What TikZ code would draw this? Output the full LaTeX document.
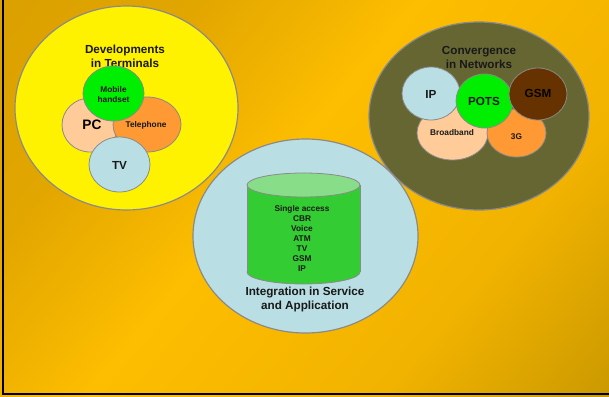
\documentclass[tikz,border=0pt]{standalone}
\usepackage{fontspec}
\setmainfont{Liberation Sans}
\usetikzlibrary{shapes.geometric}
\definecolor{bordergray}{HTML}{8A8A8A}
\definecolor{peach}{HTML}{FFCC99}
\definecolor{orng}{HTML}{FF9933}
\definecolor{brightgreen}{HTML}{00EE00}
\definecolor{lightblue}{HTML}{B9DFE4}
\definecolor{olive}{HTML}{666633}
\definecolor{brown}{HTML}{663300}
\definecolor{cylbody}{HTML}{33CC33}
\definecolor{cyltop}{HTML}{88DD88}
\definecolor{gA}{HTML}{D39B00}
\definecolor{gB}{HTML}{E2A600}
\definecolor{gC}{HTML}{FDBD00}
\definecolor{gD}{HTML}{F2B300}
\definecolor{gE}{HTML}{C99800}
\pgfdeclarehorizontalshading{bgshade}{100bp}{color(0bp)=(gA); color(30bp)=(gB); color(46bp)=(gC); color(68bp)=(gD); color(86bp)=(gE); color(100bp)=(gE)}
\begin{document}
\begin{tikzpicture}[x=1pt,y=-1pt,
  bigdisc/.style={ellipse, draw=bordergray, line width=1.2pt, inner sep=0pt},
  blob/.style={ellipse, draw=bordergray, line width=0.8pt, inner sep=0pt},
  bigtxt/.style={font=\fontsize{11.7}{14}\selectfont\bfseries, align=center, inner sep=0pt, text=black!90},
  smalltxt/.style={font=\fontsize{8.3}{9.7}\selectfont\bfseries, align=center, inner sep=0pt, text=black!90},
  cyltxt/.style={font=\fontsize{8.3}{10.1}\selectfont\bfseries, align=center, inner sep=0pt, text=black!90}]
\useasboundingbox (0,0) rectangle (609,396);
\fill[shading=bgshade, shading angle=-40] (0,0) rectangle (609,396);
\draw[line width=2pt, black] (3,0) -- (3,394) -- (609,394);

% Developments in Terminals
\node[bigdisc, fill=yellow, minimum width=223pt, minimum height=204pt] (term) at (126.5,108) {};
\node[bigtxt] (termlbl) at (125,56) {Developments\\in Terminals};
\node[blob, fill=peach, minimum width=56pt, minimum height=54pt] (pc) at (90,125) {};
\node[blob, fill=orng, minimum width=68pt, minimum height=55pt] (tel) at (147,124.5) {};
\node[blob, fill=brightgreen, minimum width=61pt, minimum height=55pt] (mob) at (113.5,93.5) {};
\node[blob, fill=lightblue, minimum width=61pt, minimum height=55pt] (tv) at (119.5,164.5) {};
\node[font=\fontsize{13.7}{16}\selectfont\bfseries, inner sep=0pt] (pclbl) at (92,125) {PC};
\node[smalltxt] (tellbl) at (146,125.5) {Telephone};
\node[smalltxt] (moblbl) at (113.5,94.5) {Mobile\\handset};
\node[bigtxt] (tvlbl) at (119.5,165) {TV};

% Convergence in Networks
\node[bigdisc, fill=olive, minimum width=220pt, minimum height=188pt] (net) at (479,116) {};
\node[bigtxt] (netlbl) at (479,57) {Convergence\\in Networks};
\node[blob, fill=peach, minimum width=71pt, minimum height=54pt] (bb) at (452.5,133) {};
\node[blob, fill=lightblue, minimum width=58pt, minimum height=53pt] (ip) at (431,93.5) {};
\node[blob, fill=orng, minimum width=59pt, minimum height=48pt] (g3) at (516.5,133) {};
\node[blob, fill=brightgreen, minimum width=57pt, minimum height=54pt] (pots) at (484.5,101) {};
\node[blob, fill=brown, minimum width=58pt, minimum height=52pt] (gsm) at (538,94) {};
\node[bigtxt] (iplbl) at (431,94) {IP};
\node[bigtxt] (potslbl) at (484,101) {POTS};
\node[bigtxt, text=black!95!brown] (gsmlbl) at (538,93.5) {GSM};
\node[smalltxt] (bblbl) at (452,133) {Broadband};
\node[smalltxt] (g3lbl) at (516.5,137) {3G};

% Integration in Service and Application
\node[bigdisc, fill=lightblue, minimum width=225pt, minimum height=194pt] (integ) at (305.5,236) {};
\fill[cylbody] (247,185) rectangle (360,272);
\filldraw[fill=cylbody, draw=bordergray, line width=0.8pt] (303.5,272) ellipse [x radius=56.5pt, y radius=12pt];
\fill[cylbody] (247.4,185) rectangle (359.6,272);
\draw[bordergray, line width=0.8pt] (247,185) -- (247,272) (360,185) -- (360,272);
\filldraw[fill=cyltop, draw=bordergray, line width=0.8pt] (303.5,185) ellipse [x radius=56.5pt, y radius=12pt];
\node[cyltxt] (cyllbl) at (302,238.5) {Single access\\CBR\\Voice\\ATM\\TV\\GSM\\IP};
\node[bigtxt] (integlbl) at (305,299) {Integration in Service\\and Application};
\end{tikzpicture}
\end{document}
